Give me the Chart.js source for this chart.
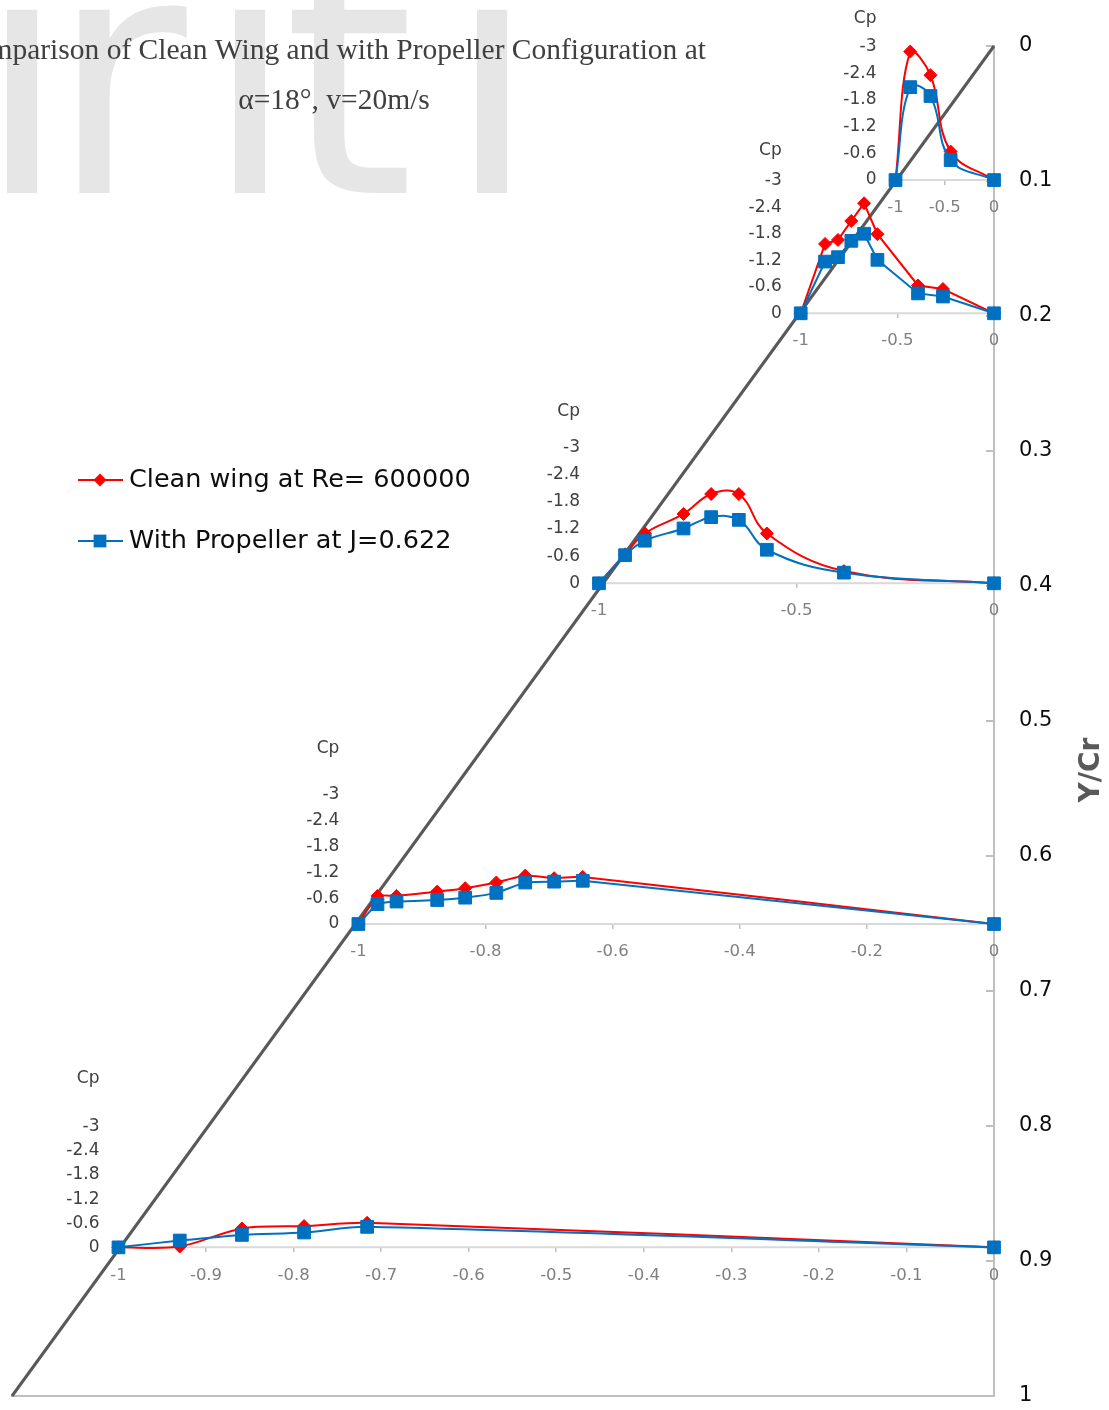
<!DOCTYPE html>
<html><head><meta charset="utf-8">
<script src="https://cdn.jsdelivr.net/npm/chart.js@4/dist/chart.umd.min.js"></script>
<style>html,body{margin:0;padding:0;background:#fff}canvas{display:block}</style>
</head><body>
<canvas id="c" width="1109" height="1410"></canvas>
<script>
// ---------------- DATA ----------------
const seriesNames = ['Clean wing at Re= 600000', 'With Propeller at J=0.622'];
const titleLines = ['Comparison of Clean Wing and with Propeller Configuration at', 'α=18°, v=20m/s'];
const spanAxisTitle = 'Y/Cr';
const cpAxisTitle = 'Cp';

// panel 1 (Y/Cr = 0.1)
const chord1 = [-1, -0.85, -0.645, -0.44, 0];
const clean1 = [0, -2.89, -2.36, -0.64, 0];
const prop1  = [0, -2.09, -1.89, -0.45, 0];
// panel 2 (Y/Cr = 0.2)
const chord2 = [-1, -0.874, -0.807, -0.738, -0.672, -0.603, -0.393, -0.264, 0];
const clean2 = [0, -1.57, -1.66, -2.09, -2.49, -1.79, -0.63, -0.55, 0];
const prop2  = [0, -1.17, -1.27, -1.64, -1.8, -1.21, -0.45, -0.38, 0];
// panel 3 (Y/Cr = 0.4)
const chord3 = [-1, -0.934, -0.884, -0.786, -0.716, -0.646, -0.575, -0.38, 0];
const clean3 = [0, -0.64, -1.10, -1.53, -1.97, -1.97, -1.10, -0.27, 0];
const prop3  = [0, -0.62, -0.94, -1.21, -1.46, -1.40, -0.74, -0.235, 0];
// panel 4 (Y/Cr = 0.65)
const chord4 = [-1, -0.970, -0.940, -0.876, -0.832, -0.783, -0.7375, -0.692, -0.647, 0];
const clean4 = [0, -0.65, -0.65, -0.75, -0.83, -0.96, -1.12, -1.06, -1.09, 0];
const prop4  = [0, -0.46, -0.52, -0.555, -0.61, -0.72, -0.96, -0.98, -1.00, 0];
// panel 5 (Y/Cr = 0.89)
const chord5 = [-1, -0.930, -0.859, -0.788, -0.716, 0];
const clean5 = [0, -0.02, -0.47, -0.53, -0.61, 0];
const prop5  = [0, -0.17, -0.31, -0.37, -0.51, 0];

// tick labels
const chordTicksA = [-1, -0.5, 0];
const chordTicks4 = [-1, -0.8, -0.6, -0.4, -0.2, 0];
const chordTicks5 = [-1, -0.9, -0.8, -0.7, -0.6, -0.5, -0.4, -0.3, -0.2, -0.1, 0];
const cpTicks = [-3, -2.4, -1.8, -1.2, -0.6, 0];
const spanTicks = [0, 0.1, 0.2, 0.3, 0.4, 0.5, 0.6, 0.7, 0.8, 0.9, 1];
const leadingEdgeX = [1, 0];   // main x extent of the leading-edge line
const leadingEdgeY = [0, 1];   // Y/Cr extent

// ---------------- LAYOUT (not data) ----------------
const panelZero  = [0.0993, 0.198, 0.398, 0.6504, 0.8899];   // Y/Cr where each panel's Cp=0 axis sits
const panelTop   = [0.0005, 0.0998, 0.2973, 0.5543, 0.8005]; // Y/Cr where each panel's Cp=-3 sits
const panelXMin  = [-9.97, -5.08, -2.486, -1.545, -1.1216];
const panelCpTitleAt = [-3.63, -3.69, -3.79, -4.06, -4.2];
const panelTension = [0.4, 0, 0.4, 0.15, 0.3];
const PLOT_W = 982;          // chart-area width in px
const CP_LABEL_GAP = 19;     // px between Cp labels and the panel origin

const panels = [
  {x: chord1, clean: clean1, prop: prop1, ticks: chordTicksA},
  {x: chord2, clean: clean2, prop: prop2, ticks: chordTicksA},
  {x: chord3, clean: clean3, prop: prop3, ticks: chordTicksA},
  {x: chord4, clean: clean4, prop: prop4, ticks: chordTicks4},
  {x: chord5, clean: clean5, prop: prop5, ticks: chordTicks5}
];

const RED = '#ff0000', BLUE = '#0070c0';
const SANS = 'DejaVu Sans';
const fmt = v => String(Math.round(v * 100) / 100);
const noPad = s => { s.paddingTop = 0; s.paddingBottom = 0; s.paddingLeft = 0; s.paddingRight = 0; };

const scales = {
  x: {
    type: 'linear', min: 0, max: 1, position: 'bottom',
    ticks: {display: false},
    grid: {display: false, drawTicks: false},
    border: {display: true, color: '#bfbfbf', width: 2},
    afterFit(s) { s.height = 14; noPad(s); }
  },
  y: {
    type: 'linear', position: 'right', reverse: true, min: 0, max: 1,
    afterBuildTicks(s) { s.ticks = spanTicks.map(v => ({value: v})); },
    ticks: {padding: 33, color: '#0d0d0d', font: {family: SANS, size: 21}, callback: v => fmt(v), autoSkip: false},
    grid: {display: true, drawOnChartArea: false, drawTicks: true, tickLength: -8, color: '#bfbfbf', lineWidth: 2},
    border: {display: true, color: '#bfbfbf', width: 2},
    afterFit(s) { s.width = 115; noPad(s); }
  }
};

const datasets = [];
datasets.push({
  label: 'leading edge',
  data: leadingEdgeX.map((x, j) => ({x, y: leadingEdgeY[j]})),
  xAxisID: 'x', yAxisID: 'y', showLine: true,
  borderColor: '#595959', borderWidth: 3, pointRadius: 0, order: 10, clip: false
});

panels.forEach((p, i) => {
  const k = 3 / (panelZero[i] - panelTop[i]);
  scales['px' + i] = {
    axis: 'x', type: 'linear', position: {y: panelZero[i]},
    min: panelXMin[i], max: 0,
    afterBuildTicks(s) { s.ticks = p.ticks.map(v => ({value: v})); },
    afterFit: noPad,
    ticks: {autoSkip: false, maxRotation: 0, minRotation: 0, padding: 13, color: '#808080',
            font: {family: SANS, size: 16.5}, callback: v => fmt(v)},
    grid: {display: true, drawOnChartArea: false, drawTicks: true, tickLength: 5, color: '#bfbfbf', lineWidth: 1.5},
    border: {display: false}
  };
  scales['pc' + i] = {
    axis: 'y', type: 'linear',
    position: {x: 1 - 1 / Math.abs(panelXMin[i]) - CP_LABEL_GAP / PLOT_W},
    reverse: true,
    min: -3 - panelTop[i] * k, max: -3 + (1 - panelTop[i]) * k,
    afterBuildTicks(s) { s.ticks = [panelCpTitleAt[i]].concat(cpTicks).map(v => ({value: v})); },
    afterFit: noPad,
    ticks: {autoSkip: false, padding: 0, color: '#404040', font: {family: SANS, size: 17},
            callback: v => Math.abs(v - panelCpTitleAt[i]) < 1e-6 ? cpAxisTitle : fmt(v)},
    grid: {display: false, drawTicks: false},
    border: {display: false}
  };
  datasets.push({
    label: seriesNames[0],
    data: p.x.map((x, j) => ({x, y: p.clean[j]})),
    xAxisID: 'px' + i, yAxisID: 'pc' + i, showLine: true,
    borderColor: RED, backgroundColor: RED, borderWidth: 2,
    pointStyle: 'rectRot', pointRadius: 6.5, pointBorderWidth: 1, pointBorderColor: RED,
    tension: panelTension[i], clip: false, order: 2
  });
  datasets.push({
    label: seriesNames[1],
    data: p.x.map((x, j) => ({x, y: p.prop[j]})),
    xAxisID: 'px' + i, yAxisID: 'pc' + i, showLine: true,
    borderColor: BLUE, backgroundColor: BLUE, borderWidth: 2,
    pointStyle: 'rect', pointRadius: 9, pointBorderWidth: 1, pointBorderColor: BLUE,
    tension: panelTension[i], clip: false, order: 1
  });
});

function drawMarker(ctx, style, r, x, y, color) {
  ctx.fillStyle = color;
  ctx.beginPath();
  if (style === 'rectRot') {
    ctx.moveTo(x - r, y); ctx.lineTo(x, y - r); ctx.lineTo(x + r, y); ctx.lineTo(x, y + r);
  } else {
    const s = r * Math.SQRT1_2;
    ctx.rect(x - s, y - s, 2 * s, 2 * s);
  }
  ctx.closePath();
  ctx.fill();
}

const deco = {
  id: 'deco',
  beforeDraw(chart) {
    const ctx = chart.ctx;
    ctx.save();
    ctx.fillStyle = '#ffffff';
    ctx.fillRect(0, 0, chart.width, chart.height);
    // background watermark letters
    ctx.fillStyle = '#e6e6e6';
    ctx.font = '335px "DejaVu Sans"';
    ctx.textBaseline = 'alphabetic';
    ctx.textAlign = 'center';
    ctx.fillText('i', 22, 193);
    ctx.fillText('i', 250, 193);
    ctx.fillText('i', 492, 193);
    ctx.textAlign = 'left';
    ctx.fillText('r', 49, 193);
    ctx.fillText('t', 283, 193);
    ctx.restore();
  },
  beforeDatasetsDraw(chart) {
    const ctx = chart.ctx;
    ctx.save();
    ctx.strokeStyle = '#d9d9d9';
    ctx.lineWidth = 2;
    panels.forEach((p, i) => {
      const sx = chart.scales['px' + i];
      const yy = chart.scales.y.getPixelForValue(panelZero[i]);
      ctx.beginPath();
      ctx.moveTo(sx.getPixelForValue(-1), yy);
      ctx.lineTo(sx.getPixelForValue(0), yy);
      ctx.stroke();
    });
    ctx.restore();
  },
  afterDraw(chart) {
    const ctx = chart.ctx;
    ctx.save();
    // title
    ctx.fillStyle = '#404040';
    ctx.font = '29.5px "Liberation Serif"';
    ctx.textBaseline = 'middle';
    ctx.textAlign = 'right';
    ctx.fillText(titleLines[0], 706, 51);
    ctx.textAlign = 'center';
    ctx.fillText(titleLines[1], 334, 101);
    // legend
    const leg = [
      {name: seriesNames[0], color: RED, style: 'rectRot', r: 6.5, y: 480},
      {name: seriesNames[1], color: BLUE, style: 'rect', r: 9, y: 541}
    ];
    leg.forEach(e => {
      ctx.strokeStyle = e.color; ctx.lineWidth = 2;
      ctx.beginPath(); ctx.moveTo(78, e.y); ctx.lineTo(123, e.y); ctx.stroke();
      drawMarker(ctx, e.style, e.r, 100, e.y, e.color);
      ctx.fillStyle = '#0d0d0d';
      ctx.font = '25.5px "DejaVu Sans"';
      ctx.textAlign = 'left';
      ctx.textBaseline = 'middle';
      ctx.fillText(e.name, 129, e.y);
    });
    // span axis title
    ctx.translate(1092, 770);
    ctx.rotate(-Math.PI / 2);
    ctx.fillStyle = '#595959';
    ctx.font = 'bold 28px "DejaVu Sans"';
    ctx.textAlign = 'center';
    ctx.textBaseline = 'middle';
    ctx.fillText(spanAxisTitle, 0, 0);
    ctx.restore();
  }
};

new Chart(document.getElementById('c'), {
  type: 'scatter',
  data: {datasets},
  options: {
    responsive: false,
    animation: false,
    events: [],
    layout: {padding: {left: 12, top: 46, right: 0, bottom: 0}},
    plugins: {legend: {display: false}, title: {display: false}, tooltip: {enabled: false}},
    scales
  },
  plugins: [deco]
});
</script>
</body></html>
